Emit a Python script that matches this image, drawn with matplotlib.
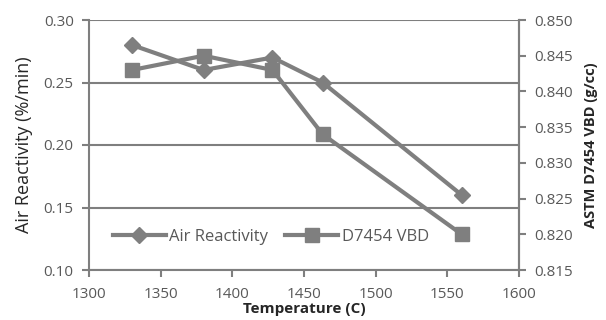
import matplotlib
matplotlib.use('Agg')
import matplotlib.pyplot as plt

temp = [1330, 1380, 1428, 1463, 1560]
air_reactivity = [0.28, 0.26, 0.27, 0.25, 0.16]
vbd = [0.843, 0.845, 0.843, 0.834, 0.820]

gray = '#7f7f7f'
txt = '#595959'
plt.rcParams['font.family'] = ['Open Sans', 'DejaVu Sans']

fig = plt.figure(figsize=(6.06, 3.2), dpi=100)
ax = fig.add_axes([89/606, 50/320, 430/606, 250/320])
ax2 = ax.twinx()

l1, = ax.plot(temp, air_reactivity, color=gray, lw=3, marker='D', ms=8, label='Air Reactivity')
l2, = ax2.plot(temp, vbd, color=gray, lw=3, marker='s', ms=10.5, label='D7454 VBD')

ax.set_xlim(1300, 1600)
ax.set_ylim(0.10, 0.30)
ax.set_yticks([0.10, 0.15, 0.20, 0.25, 0.30])
ax.set_yticklabels(['0.10', '0.15', '0.20', '0.25', '0.30'])
ax.set_xticks(range(1300, 1601, 50))
ax2.set_ylim(0.815, 0.850)
ax2.set_yticks([0.815, 0.820, 0.825, 0.830, 0.835, 0.840, 0.845, 0.850])
ax2.set_yticklabels(['%.3f' % v for v in [0.815, 0.820, 0.825, 0.830, 0.835, 0.840, 0.845, 0.850]])

ax.yaxis.grid(True, color=gray, lw=1.5)
ax.set_axisbelow(True)

for a in (ax, ax2):
    a.spines['top'].set_visible(False)
    for s in ('left', 'bottom', 'right'):
        a.spines[s].set_color(gray)
        a.spines[s].set_linewidth(1.5)
    a.tick_params(colors=gray, labelcolor=txt, labelsize=11, width=1.5, length=5, pad=6)
ax.tick_params(axis='x', pad=7)
ax2.spines['left'].set_visible(False)
ax2.spines['bottom'].set_visible(False)

ax.set_ylabel('Air Reactivity (%/min)', fontsize=13, color='#262626', labelpad=8)
ax2.set_ylabel('ASTM D7454 VBD (g/cc)', fontsize=10.5, fontweight='bold', color='#262626', labelpad=8)
ax.set_xlabel('Temperature (C)', fontsize=11, fontweight='bold', color='#262626', labelpad=0)

ax.legend([l1, l2], ['Air Reactivity', 'D7454 VBD'], loc='lower left', bbox_to_anchor=(0.02, 0.04),
          ncol=2, frameon=False, fontsize=12, labelcolor=txt, handlelength=3.2, columnspacing=1.0,
          handletextpad=0.2)

fig.savefig('out.png', dpi=100)
